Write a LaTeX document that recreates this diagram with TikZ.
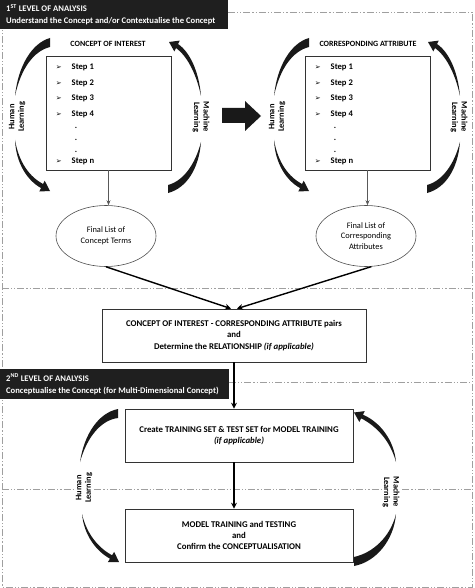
\documentclass[tikz,border=0pt]{standalone}
\usepackage{fontspec}
\setmainfont{Carlito}
\newfontfamily\symfont{DejaVu Sans}
\usetikzlibrary{positioning,arrows.meta,shapes.geometric}
\newcommand{\stepmark}{{\symfont\fontsize{7}{7}\selectfont ➢}}

\tikzset{
  sepline/.style={gray!75, line width=0.9pt, dash pattern=on 7pt off 2pt on 1.2pt off 2pt on 1.2pt off 2pt},
  header/.style={fill=black!88, text=white, anchor=north west, align=flush left, inner xsep=6pt, inner ysep=0pt,
    font=\bfseries\fontsize{8.6}{12}\selectfont},
  listbox/.style={draw=black!80, line width=0.7pt, minimum width=125pt, minimum height=114pt},
  steplist/.style={anchor=north west, align=left, inner sep=0pt, font=\bfseries\fontsize{8.6}{15.7}\selectfont},
  listtitle/.style={font=\bfseries\fontsize{8}{10}\selectfont},
  oval/.style={ellipse, draw=black!70, line width=0.6pt, minimum width=100pt, minimum height=61pt,
    align=center, inner sep=0pt, font=\fontsize{8.4}{10.5}\selectfont},
  stagebox/.style={draw=black!80, line width=0.7pt, minimum height=53pt, align=center,
    font=\bfseries\fontsize{8.8}{11.2}\selectfont},
  learn/.style={align=center, inner sep=1pt, font=\bfseries\fontsize{8.4}{9.5}\selectfont},
  flow/.style={line width=1.4pt, -{Stealth[length=6pt,width=6pt]}},
}

\begin{document}
\begin{tikzpicture}[x=1pt, y=-1pt]
    \useasboundingbox (0,0) rectangle (474,588);

    % Dashed frame and section separators
    \draw[sepline] (228,12) -- (472,12) -- (472,587) -- (2,587) -- (2,12);
    \draw[sepline] (2,288) -- (472,288);
    \draw[sepline] (229,382) -- (472,382);
    \draw[sepline] (2,489) -- (472,489);

    % Level headers
    \node[header, text width=216pt, minimum height=29pt] (lvlone) at (0,0)
        {1\textsuperscript{ST} LEVEL OF ANALYSIS\\Understand the Concept and/or Contextualise the Concept};
    \node[header, text width=217pt, minimum height=30pt] (lvltwo) at (0,369)
        {2\textsuperscript{ND} LEVEL OF ANALYSIS\\Conceptualise the Concept (for Multi-Dimensional Concept)};

    % Concept of interest and corresponding attribute lists
    \node[listtitle] (titleA) at (108,44) {CONCEPT OF INTEREST};
    \node[listtitle] (titleB) at (368,44) {CORRESPONDING ATTRIBUTE};
    \node[listbox] (boxA) at (108.5,113) {};
    \node[listbox] (boxB) at (367.5,113) {};
    \node[steplist] (listA) at ([xshift=10pt,yshift=-8pt]boxA.north west)
        {\stepmark\hspace{10pt}Step 1\\ \stepmark\hspace{10pt}Step 2\\ \stepmark\hspace{10pt}Step 3\\
         \stepmark\hspace{10pt}Step 4\\[-3.5pt] \hspace*{19pt}.\\[-4pt] \hspace*{19pt}.\\[-4pt]
         \hspace*{19pt}.\\[-4pt] \stepmark\hspace{10pt}Step n};
    \node[steplist] (listB) at ([xshift=10pt,yshift=-8pt]boxB.north west)
        {\stepmark\hspace{10pt}Step 1\\ \stepmark\hspace{10pt}Step 2\\ \stepmark\hspace{10pt}Step 3\\
         \stepmark\hspace{10pt}Step 4\\[-3.5pt] \hspace*{19pt}.\\[-4pt] \hspace*{19pt}.\\[-4pt]
         \hspace*{19pt}.\\[-4pt] \stepmark\hspace{10pt}Step n};

    % Block arrow between the two lists
    \fill[black!90] (222,108) -- (245,108) -- (245,101) -- (261,116) -- (245,131) -- (245,123) -- (222,123) -- cycle;

    % Learning arcs round the lists
    \node[learn, rotate=90] (hlA) at (17,117) {Human\\Learning};
    \node[learn, rotate=-90] (mlA) at (201,117) {Machine\\Learning};
    \node[learn, rotate=90] (hlB) at (277,117) {Human\\Learning};
    \node[learn, rotate=-90] (mlB) at (459,117) {Machine\\Learning};
    \fill[black!90] (50,38) .. controls (32,43) and (18,66) .. (15,96) .. controls (21,68) and (34,51) .. (50,47) -- cycle;
    \fill[black!90] (15,140) .. controls (16,164) and (28,181) .. (41,188) -- (39.3,191.5) -- (50,191) -- (44.7,180.7) -- (43,184) .. controls (30,177) and (19,163) .. (15,140) -- cycle;
    \fill[black!90] (201,96) .. controls (199,72) and (190,52) .. (178,44) -- (179.7,40.6) -- (169,42) -- (174.3,51.4) -- (176,48) .. controls (186,55) and (196,72) .. (201,96) -- cycle;
    \fill[black!90] (201,142) .. controls (199,168) and (187,188) .. (168,193) -- (168,185) .. controls (183,181) and (195,165) .. (201,142) -- cycle;
    \begin{scope}[xshift=259pt]
        \fill[black!90] (50,38) .. controls (32,43) and (18,66) .. (15,96) .. controls (21,68) and (34,51) .. (50,47) -- cycle;
        \fill[black!90] (15,140) .. controls (16,164) and (28,181) .. (41,188) -- (39.3,191.5) -- (50,191) -- (44.7,180.7) -- (43,184) .. controls (30,177) and (19,163) .. (15,140) -- cycle;
        \fill[black!90] (201,96) .. controls (199,72) and (190,52) .. (178,44) -- (179.7,40.6) -- (169,42) -- (174.3,51.4) -- (176,48) .. controls (186,55) and (196,72) .. (201,96) -- cycle;
        \fill[black!90] (201,142) .. controls (199,168) and (187,188) .. (168,193) -- (168,185) .. controls (183,181) and (195,165) .. (201,142) -- cycle;
    \end{scope}

    % Final lists
    \node[oval] (finalA) at (106,236) {Final List of\\Concept Terms};
    \node[oval] (finalB) at (366,236) {Final List of\\Corresponding\\Attributes};
    \draw[gray!70!black, line width=0.6pt, -{Stealth[length=5pt,width=4pt]}] (boxA.south) -- (boxA.south |- finalA.north);
    \draw[gray!70!black, line width=0.6pt, -{Stealth[length=5pt,width=4pt]}] (boxB.south) -- (boxB.south |- finalB.north);

    % Pairs and the two model stages
    \node[stagebox, minimum width=264pt] (pairs) at (234,335.5)
        {CONCEPT OF INTEREST - CORRESPONDING ATTRIBUTE pairs\\and\\Determine the RELATIONSHIP \textit{(if applicable)}};
    \node[stagebox, minimum width=228pt] (trainset) at (239,435.5)
        {Create TRAINING SET \& TEST SET for MODEL TRAINING\\\textit{(if applicable)}};
    \node[stagebox, minimum width=228pt] (modeltest) at (239,535.5)
        {MODEL TRAINING and TESTING\\and\\Confirm the CONCEPTUALISATION};

    \draw[flow] (finalA.south) -- ([xshift=-3pt]pairs.north);
    \draw[flow] (finalB.-80) -- ([xshift=3pt]pairs.north);
    \draw[flow] (pairs.south) -- (pairs.south |- trainset.north);
    \draw[flow] (pairs.south |- trainset.south) -- (pairs.south |- modeltest.north);

    % Learning arcs round the model stages
    \node[learn, rotate=90, fill=white] (hlC) at (84,488) {Human\\Learning};
    \node[learn, rotate=-90, fill=white] (mlC) at (391,492) {Machine\\Learning};
    \fill[black!90] (118,409) .. controls (98,413) and (84,435) .. (80,462) .. controls (87,437) and (101,420) .. (118,418) -- cycle;
    \fill[black!90] (82,514) .. controls (84,535) and (96,551) .. (110,558.7) -- (107.8,562.1) -- (119,562) -- (114.2,551.9) -- (112,555.3) .. controls (99,548) and (87,535) .. (82,514) -- cycle;
    \fill[black!90] (396,462) .. controls (394,440) and (380,422) .. (362.9,414.7) -- (364.7,411.1) -- (354,412.5) -- (359.3,421.9) -- (361.1,418.3) .. controls (376,426) and (390,440) .. (396,462) -- cycle;
    \fill[black!90] (396,514) .. controls (394,540) and (376,562) .. (354,566) -- (354,557) .. controls (372,553) and (390,538) .. (396,514) -- cycle;
\end{tikzpicture}
\end{document}
